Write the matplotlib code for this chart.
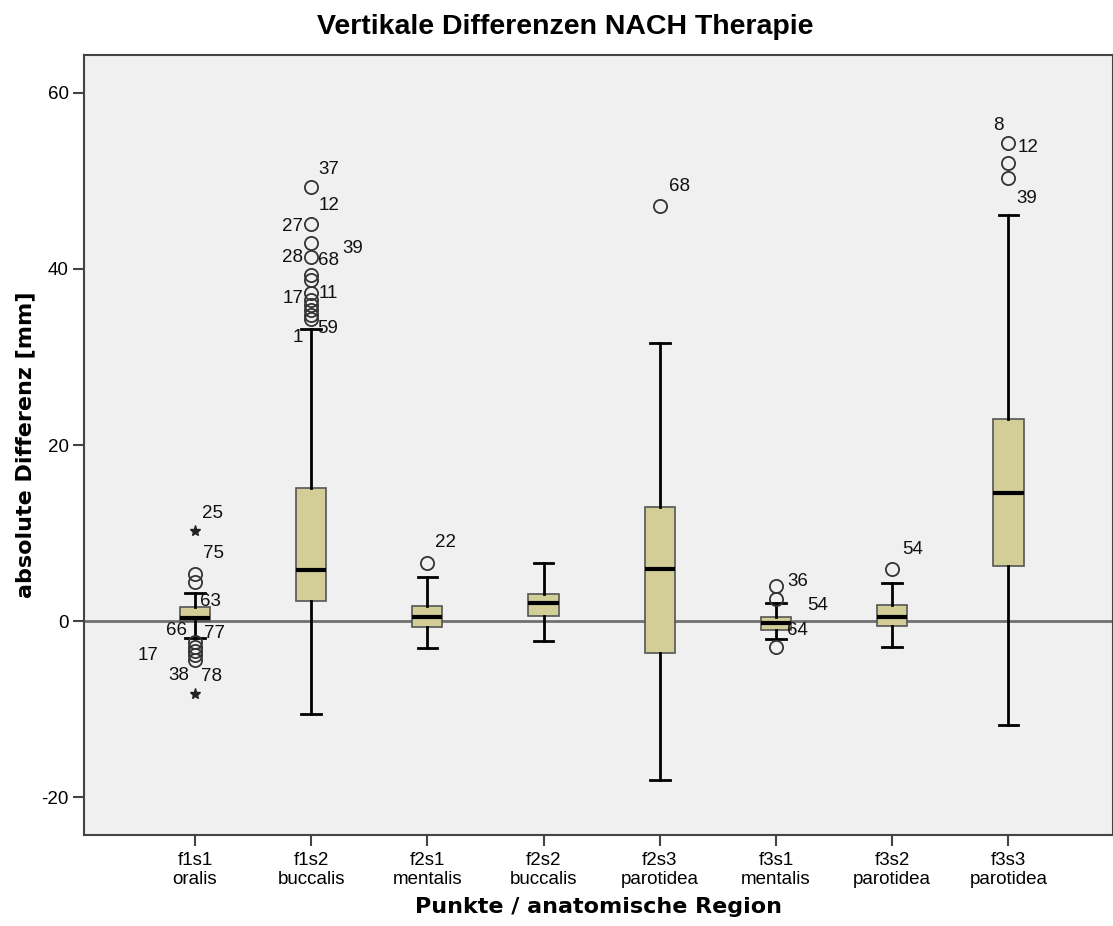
import matplotlib
matplotlib.use("Agg")
import matplotlib.pyplot as plt
from matplotlib.transforms import offset_copy

# ---------------- data ----------------
categories = ["f1s1\noralis", "f1s2\nbuccalis", "f2s1\nmentalis", "f2s2\nbuccalis",
              "f2s3\nparotidea", "f3s1\nmentalis", "f3s2\nparotidea", "f3s3\nparotidea"]
q1 = [0.0, 2.3, -0.7, 0.6, -3.6, -1.0, -0.6, 6.25]
median = [0.3, 5.8, 0.45, 2.0, 5.9, -0.2, 0.5, 14.5]
q3 = [1.6, 15.1, 1.7, 3.1, 13.0, 0.45, 1.8, 23.0]
whisker_low = [-1.9, -10.5, -3.1, -2.3, -18.1, -2.0, -3.0, -11.8]
whisker_high = [3.2, 33.2, 5.0, 6.6, 31.6, 2.0, 4.3, 46.1]

outliers = [
    [5.4, 4.4, -2.4, -2.9, -3.4, -3.9, -4.4],
    [49.3, 45.1, 43.0, 41.4, 39.3, 38.75, 37.3, 36.5, 35.9, 35.3, 34.8, 34.3],
    [6.6],
    [],
    [47.2],
    [4.0, 2.5, -3.0],
    [5.9],
    [54.3, 52.0, 50.3],
]
extremes = [[10.2, -8.3], [], [], [], [], [], [], []]

# outlier case labels: (category index, value annotated, label text)
case_labels = [
    (0, 10.2, "25"), (0, 5.4, "75"), (0, 4.4, "63"), (0, -2.4, "66"),
    (0, -2.9, "77"), (0, -3.4, "17"), (0, -4.4, "38"), (0, -8.3, "78"),
    (1, 49.3, "37"), (1, 45.1, "12"), (1, 45.1, "27"), (1, 41.4, "28"),
    (1, 41.4, "68"), (1, 43.0, "39"), (1, 37.3, "17"), (1, 37.3, "11"),
    (1, 34.3, "1"), (1, 34.3, "59"),
    (2, 6.6, "22"),
    (4, 47.2, "68"),
    (5, 4.0, "36"), (5, 2.5, "54"), (5, -3.0, "64"),
    (6, 5.9, "54"),
    (7, 54.3, "8"), (7, 54.3, "12"), (7, 50.3, "39"),
]
# label placement (pixel offsets from box centre / point, horizontal alignment)
label_offsets = [
    (7, 18, "left"), (8, 20, "left"), (5, -19, "left"), (-8, 12, "right"),
    (9, 13, "left"), (-36, -4, "right"), (-6, -16, "right"), (6, 18, "left"),
    (7, 18, "left"), (7, 19, "left"), (-8, -2, "right"), (-8, -1, "right"),
    (7, -4, "left"), (31, -6, "left"), (-8, -6, "right"), (7, -1, "left"),
    (-8, -18, "right"), (6, -9, "left"),
    (8, 20, "left"),
    (9, 19, "left"),
    (11, 4, "left"), (31, -6, "left"), (11, 17, "left"),
    (10, 20, "left"),
    (-5, 18, "right"), (9, -4, "left"), (8, -20, "left"),
]

yticks = [-20, 0, 20, 40, 60]

# ---------------- figure ----------------
DPI = 100
fig = plt.figure(figsize=(11.13, 9.26), dpi=DPI, facecolor="white")
ax = fig.add_axes([84 / 1113, 1 - 835 / 926, 1 - 84 / 1113, (835 - 55) / 926])
ax.set_facecolor("#F0F0F0")

positions = list(range(1, len(categories) + 1))
stats = []
for i in range(len(categories)):
    stats.append(dict(med=median[i], q1=q1[i], q3=q3[i],
                      whislo=whisker_low[i], whishi=whisker_high[i], fliers=[]))

ax.axhline(0, color="#707070", lw=2.0, zorder=1)

ax.bxp(stats, positions=positions, widths=0.26, patch_artist=True,
       showfliers=False, zorder=3,
       boxprops=dict(facecolor="#D3CE97", edgecolor="#555555", linewidth=1.2),
       medianprops=dict(color="black", linewidth=3.0, solid_capstyle="butt"),
       whiskerprops=dict(color="black", linewidth=2.0),
       capprops=dict(color="black", linewidth=2.0),
       capwidths=0.17)

for i, pos in enumerate(positions):
    if outliers[i]:
        ax.plot([pos] * len(outliers[i]), outliers[i], linestyle="none", marker="o",
                markersize=9.5, markerfacecolor="none", markeredgecolor="#333333",
                markeredgewidth=1.3, zorder=4)
    if extremes[i]:
        ax.plot([pos] * len(extremes[i]), extremes[i], linestyle="none", marker="*",
                markersize=8, color="#222222", zorder=4)

for (ci, val, txt), (dx, dy, ha) in zip(case_labels, label_offsets):
    tr = offset_copy(ax.transData, fig=fig, x=dx, y=dy, units="dots")
    ax.text(positions[ci], val, txt, transform=tr, ha=ha, va="center",
            fontsize=13.5, family="Liberation Sans", color="#111111", zorder=5)

ax.set_xlim(0.045, 8.9)
ax.set_ylim(-24.3, 64.3)
ax.set_xticks(positions)
ax.set_xticklabels(categories, family="Liberation Sans", fontsize=13.5, linespacing=1.15)
ax.set_yticks(yticks)
ax.set_yticklabels([str(t) for t in yticks], family="Liberation Sans", fontsize=13.5)
ax.tick_params(axis="both", direction="out", length=8, width=1.5, color="#444444")
ax.tick_params(axis="x", pad=4)
ax.tick_params(axis="y", pad=3)
for side in ["left", "top", "bottom", "right"]:
    ax.spines[side].set_color("#444444")
    ax.spines[side].set_linewidth(1.5)

ax.set_xlabel("Punkte / anatomische Region", family="DejaVu Sans", fontweight="bold",
              fontsize=16, labelpad=7)
ax.set_ylabel("absolute Differenz [mm]", family="DejaVu Sans", fontweight="bold",
              fontsize=16, labelpad=4)
fig.text(565 / 1113, 1 - 27 / 926, "Vertikale Differenzen NACH Therapie",
         ha="center", va="center", family="Liberation Sans", fontweight="bold",
         fontsize=20.5)

fig.savefig("out.png", dpi=DPI, facecolor="white")
